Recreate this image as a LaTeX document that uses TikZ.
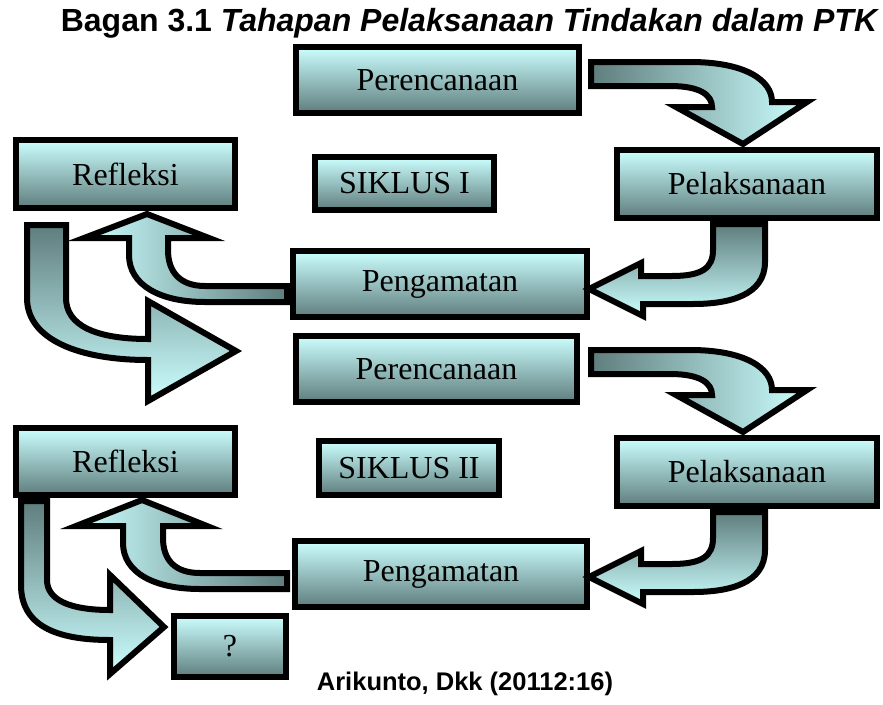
\documentclass[tikz,border=0pt]{standalone}
\usepackage{fontspec}
\setmainfont{Liberation Serif}
\newfontfamily\headfont{Liberation Sans}
\usepackage{tikz}
\usetikzlibrary{positioning,shapes}
\definecolor{paleCyan}{RGB}{204,255,255}
\definecolor{darkTeal}{RGB}{95,125,125}
\tikzset{
        phase/.style={draw=black, line width=6pt, top color=paleCyan, middle color=paleCyan!72!darkTeal, bottom color=darkTeal, inner sep=0pt, font=\fontsize{32}{36}\selectfont}, % the stage boxes
        flow/.style={draw=black, line width=6pt, line join=miter}, % the block arrows
        heading/.style={font=\headfont\bfseries\fontsize{#1}{#1}\selectfont},
}
\begin{document}
\begin{tikzpicture}[x=1pt,y=-1pt]
\useasboundingbox (0,0) rectangle (883,704);

\node[heading=32, anchor=base] (title) at (469,31) {Bagan 3.1 \itshape Tahapan Pelaksanaan Tindakan dalam PTK};
\node[heading=25.5, anchor=base] (source) at (465,690) {Arikunto, Dkk (20112:16)};

% siklus I
\node[phase, minimum width=283, minimum height=66] (plan1) at (437.5,80) {Perencanaan};
\node[phase, minimum width=260, minimum height=68] (act1) at (747,184) {Pelaksanaan};
\node[phase, minimum width=294, minimum height=66] (obs1) at (440,284) {Pengamatan};
\node[phase, minimum width=219, minimum height=68] (refl1) at (125.5,174) {Refleksi};
\node[phase, minimum width=179, minimum height=53] (cycle1) at (404.5,183.5) {SIKLUS I};

% siklus II
\node[phase, minimum width=281, minimum height=66] (plan2) at (436.5,369) {Perencanaan};
\node[phase, minimum width=260, minimum height=68] (act2) at (747,472) {Pelaksanaan};
\node[phase, minimum width=292, minimum height=66] (obs2) at (441,574) {Pengamatan};
\node[phase, minimum width=219, minimum height=67] (refl2) at (125.5,461.5) {Refleksi};
\node[phase, minimum width=180, minimum height=54] (cycle2) at (409,468) {SIKLUS II};
\node[phase, minimum width=112, minimum height=61] (next) at (230,646.5) {?};

% arrows siklus I
\path[flow, left color=darkTeal, right color=paleCyan] (591,62) -- (690,62) .. controls (745,62) and (772,80) .. (772,102) -- (807,102) -- (743,144) -- (676,107) -- (712,107) .. controls (712,95) and (700,86) .. (670,86) -- (591,86) -- cycle;
\path[flow, top color=darkTeal, bottom color=paleCyan] (713,224) -- (765,224) -- (765,262) .. controls (765,295) and (730,304) .. (693,304) -- (643,304) -- (643,316) -- (589,289) -- (641,263) -- (641,276) -- (672,276) .. controls (702,276) and (713,268) .. (713,250) -- cycle;
\path[flow, left color=paleCyan, right color=darkTeal] (287,286) -- (205,286) .. controls (180,286) and (168,272) .. (168,250) -- (168,238) -- (209,238) -- (147,214) -- (84,238) -- (129,238) -- (129,255) .. controls (129,285) and (160,302) .. (205,302) -- (287,302) -- cycle;
\path[flow, top color=darkTeal, bottom color=paleCyan] (27,225) -- (66,225) -- (66,298) .. controls (66,325) and (95,339) .. (148,339) -- (148,301) -- (236,351) -- (148,401) -- (148,360) .. controls (80,360) and (27,340) .. (27,298) -- cycle;

% arrows siklus II
\path[flow, left color=darkTeal, right color=paleCyan] (591,350) -- (690,350) .. controls (745,350) and (772,368) .. (772,390) -- (807,390) -- (743,432) -- (676,395) -- (712,395) .. controls (712,383) and (700,374) .. (670,374) -- (591,374) -- cycle;
\path[flow, top color=darkTeal, bottom color=paleCyan] (713,512) -- (765,512) -- (765,550) .. controls (765,583) and (730,592) .. (693,592) -- (643,592) -- (643,604) -- (589,577) -- (641,551) -- (641,564) -- (672,564) .. controls (702,564) and (713,556) .. (713,538) -- cycle;
\path[flow, left color=paleCyan, right color=darkTeal] (287,573) -- (200,573) .. controls (175,573) and (163,560) .. (163,538) -- (163,526) -- (207,526) -- (142,500) -- (76,526) -- (123,526) -- (123,543) .. controls (123,573) and (155,589) .. (200,589) -- (287,589) -- cycle;
\path[flow, top color=darkTeal, bottom color=paleCyan] (21,501) -- (47,501) -- (47,580) .. controls (47,600) and (70,610) .. (110,610) -- (110,575) -- (164,627) -- (110,674) -- (110,640) .. controls (55,640) and (21,625) .. (21,585) -- cycle;

\end{tikzpicture}
\end{document}
